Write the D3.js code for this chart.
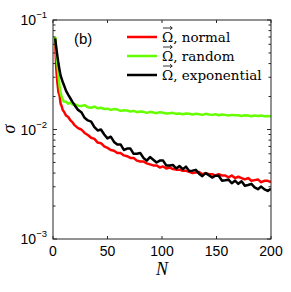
<!DOCTYPE html>
<html>
<head>
<meta charset="utf-8">
<script src="https://cdn.jsdelivr.net/npm/d3@7"></script>
<style>
  body { margin: 0; background: #fff; }
  svg { display: block; }
</style>
</head>
<body>
<div id="chart"></div>
<script>
const width = 291;
const height = 292;
const margin = { top: 20, right: 20, bottom: 53, left: 53 };

// sample sizes
const N = [2, 3, 4, 5, 6, 7, 8, 9, 10, 12, 14, 16, 18,
  20, 23, 26, 29, 32, 35, 38, 41, 44, 47, 50, 53, 56, 59, 62, 65, 68, 71, 74, 77, 80,
  83, 86, 89, 92, 95, 98, 101, 104, 107, 110, 113, 116, 119, 122, 125, 128, 131, 134,
  137, 140, 143, 146, 149, 152, 155, 158, 161, 164, 167, 170, 173, 176, 179, 182, 185,
  188, 191, 194, 197, 200];

const sigmaNormal = [0.065, 0.036, 0.027, 0.022, 0.0205, 0.0172, 0.0163, 0.0150, 0.0146,
  0.0134, 0.0130, 0.0121, 0.0116,
  0.0109, 0.0103, 0.0100, 0.0093, 0.0089, 0.0084, 0.0082, 0.0076, 0.0075, 0.0070, 0.0068,
  0.0065, 0.0064, 0.0061, 0.0061, 0.0058, 0.0057, 0.0055, 0.0055, 0.0052, 0.0051, 0.0051,
  0.0049, 0.0048, 0.0047, 0.0047, 0.0045, 0.0046, 0.0044, 0.0045, 0.00435, 0.0043, 0.0043,
  0.0042, 0.0042, 0.0041, 0.0040, 0.00405, 0.0041, 0.0039, 0.0040, 0.0039, 0.0039, 0.0038,
  0.0039, 0.0038, 0.0038, 0.00365, 0.0038, 0.0036, 0.0037, 0.0036, 0.0035, 0.0036, 0.0034,
  0.00345, 0.0035, 0.0033, 0.0034, 0.0034, 0.0033];

const sigmaRandom = [0.070, 0.052, 0.040, 0.031, 0.025, 0.0215, 0.0198, 0.0188, 0.0180,
  0.0179, 0.0172, 0.0176, 0.0169,
  0.0170, 0.0165, 0.0164, 0.0167, 0.0160, 0.0158, 0.0162, 0.0156, 0.0158, 0.0154, 0.0155,
  0.0151, 0.0154, 0.0152, 0.0148, 0.0150, 0.0149, 0.0146, 0.0148, 0.0144, 0.0146, 0.0145,
  0.0142, 0.0145, 0.0143, 0.0141, 0.0144, 0.0142, 0.0140, 0.0141, 0.0142, 0.0139, 0.0140,
  0.0138, 0.0140, 0.0139, 0.0137, 0.0139, 0.0138, 0.0136, 0.0139, 0.0137, 0.0136, 0.0138,
  0.0135, 0.0137, 0.0136, 0.0134, 0.0136, 0.0135, 0.0135, 0.0133, 0.0135, 0.0134, 0.0132,
  0.0134, 0.0133, 0.0134, 0.0132, 0.0133, 0.0132];

const sigmaExp = [0.068, 0.056, 0.047, 0.040, 0.035, 0.031, 0.029, 0.027, 0.0255,
  0.0225, 0.0207, 0.0192, 0.0178,
  0.0166, 0.0151, 0.0144, 0.0128, 0.0121, 0.0118, 0.0105, 0.0098, 0.0100, 0.0090, 0.0083,
  0.0086, 0.0077, 0.0073, 0.0073, 0.0065, 0.0067, 0.0067, 0.0060, 0.0060, 0.0061, 0.0055,
  0.0052, 0.0056, 0.0053, 0.0050, 0.0052, 0.0052, 0.00468, 0.00469, 0.00475, 0.0044, 0.00464,
  0.00434, 0.00458, 0.00417, 0.00421, 0.00428, 0.00395, 0.00375, 0.00399, 0.00383, 0.00364, 0.00378,
  0.00378, 0.00341, 0.00344, 0.00348, 0.00323, 0.00341, 0.00319, 0.00337, 0.00307, 0.00311, 0.00319,
  0.00296, 0.00285, 0.00301, 0.00284, 0.00275, 0.00288];

const seriesNames = ["normal", "random", "exponential"];
const seriesColors = ["#ff0000", "#66ff00", "#000000"];
const xTicks = [0, 50, 100, 150, 200];
const yDecades = [1e-3, 1e-2, 1e-1];
const yLabelsExp = ["\u22123", "\u22122", "\u22121"];

const svg = d3.select("#chart")
  .append("svg")
  .attr("width", width)
  .attr("height", height);

const x = d3.scaleLinear()
  .domain([0, 200])
  .range([margin.left, width - margin.right]);

const y = d3.scaleLog()
  .domain([1e-3, 1e-1])
  .range([height - margin.bottom, margin.top]);

const x0 = x.range()[0], x1 = x.range()[1];
const y0 = y.range()[0], y1 = y.range()[1];

svg.append("clipPath")
  .attr("id", "clip")
  .append("rect")
  .attr("x", x0).attr("y", y1)
  .attr("width", x1 - x0).attr("height", y0 - y1);

// curves, plotted in legend order
const line = d3.line()
  .x((d, i) => x(N[i]))
  .y(d => y(d));

[sigmaNormal, sigmaRandom, sigmaExp].forEach((vals, k) => {
  svg.append("path")
    .attr("clip-path", "url(#clip)")
    .attr("d", line(vals))
    .attr("fill", "none")
    .attr("stroke", seriesColors[k])
    .attr("stroke-width", 2.5)
    .attr("stroke-linejoin", "round");
});

// box
const axisColor = "#262626";
svg.append("rect")
  .attr("x", x0).attr("y", y1)
  .attr("width", x1 - x0).attr("height", y0 - y1)
  .attr("fill", "none")
  .attr("stroke", axisColor)
  .attr("stroke-width", 1);

// x ticks, inward on bottom and top
xTicks.forEach(t => {
  svg.append("line")
    .attr("x1", x(t)).attr("x2", x(t))
    .attr("y1", y0).attr("y2", y0 - 3)
    .attr("stroke", axisColor);
  svg.append("line")
    .attr("x1", x(t)).attr("x2", x(t))
    .attr("y1", y1).attr("y2", y1 + 3)
    .attr("stroke", axisColor);
  svg.append("text")
    .attr("x", x(t))
    .attr("y", y0 + 17)
    .attr("text-anchor", "middle")
    .attr("font-family", "Liberation Sans, Arial, sans-serif")
    .attr("font-size", 14)
    .text(t);
});

// y ticks: decades and minor ticks on both sides
const minor = [];
[1e-3, 1e-2].forEach(d => {
  for (let m = 2; m <= 9; m++) minor.push(d * m);
});
minor.forEach(v => {
  svg.append("line")
    .attr("x1", x0).attr("x2", x0 + 2.5)
    .attr("y1", y(v)).attr("y2", y(v))
    .attr("stroke", axisColor);
  svg.append("line")
    .attr("x1", x1).attr("x2", x1 - 2.5)
    .attr("y1", y(v)).attr("y2", y(v))
    .attr("stroke", axisColor);
});
yDecades.forEach((v, i) => {
  svg.append("line")
    .attr("x1", x0).attr("x2", x0 + 4)
    .attr("y1", y(v)).attr("y2", y(v))
    .attr("stroke", axisColor);
  svg.append("line")
    .attr("x1", x1).attr("x2", x1 - 4)
    .attr("y1", y(v)).attr("y2", y(v))
    .attr("stroke", axisColor);
  const lab = svg.append("text")
    .attr("x", x0 - 6)
    .attr("y", y(v) + 5)
    .attr("text-anchor", "end")
    .attr("font-family", "Liberation Sans, Arial, sans-serif")
    .attr("font-size", 14);
  lab.append("tspan").text("10");
  lab.append("tspan")
    .attr("dy", -7)
    .attr("font-size", 9.5)
    .text(yLabelsExp[i]);
});

// axis titles
svg.append("text")
  .attr("x", (x0 + x1) / 2)
  .attr("y", 275)
  .attr("text-anchor", "middle")
  .attr("font-family", "Liberation Serif, serif")
  .attr("font-style", "italic")
  .attr("font-size", 18)
  .text("N");

svg.append("text")
  .attr("transform", `translate(15, 129) rotate(-90)`)
  .attr("text-anchor", "middle")
  .attr("font-family", "Liberation Serif, serif")
  .attr("font-style", "italic")
  .attr("font-size", 18)
  .text("\u03c3");

// panel tag
svg.append("text")
  .attr("x", 74)
  .attr("y", 44)
  .attr("font-family", "Liberation Sans, Arial, sans-serif")
  .attr("font-size", 15)
  .text("(b)");

// legend
const legend = svg.append("g");
seriesNames.forEach((name, i) => {
  const ly = 37 + i * 19;
  legend.append("line")
    .attr("x1", 127).attr("x2", 157)
    .attr("y1", ly).attr("y2", ly)
    .attr("stroke", seriesColors[i])
    .attr("stroke-width", 2.5);
  legend.append("text")
    .attr("x", 162)
    .attr("y", ly + 5)
    .attr("font-family", "DejaVu Serif, serif")
    .attr("font-size", 13.5)
    .text("\u03a9, " + name);
  // vector arrow over the Omega
  const ay = ly - 9;
  legend.append("path")
    .attr("d", `M163,${ay}H172M170,${ay - 1.8}L172.3,${ay}L170,${ay + 1.8}`)
    .attr("fill", "none")
    .attr("stroke", "#000")
    .attr("stroke-width", 0.8);
});
</script>
</body>
</html>
